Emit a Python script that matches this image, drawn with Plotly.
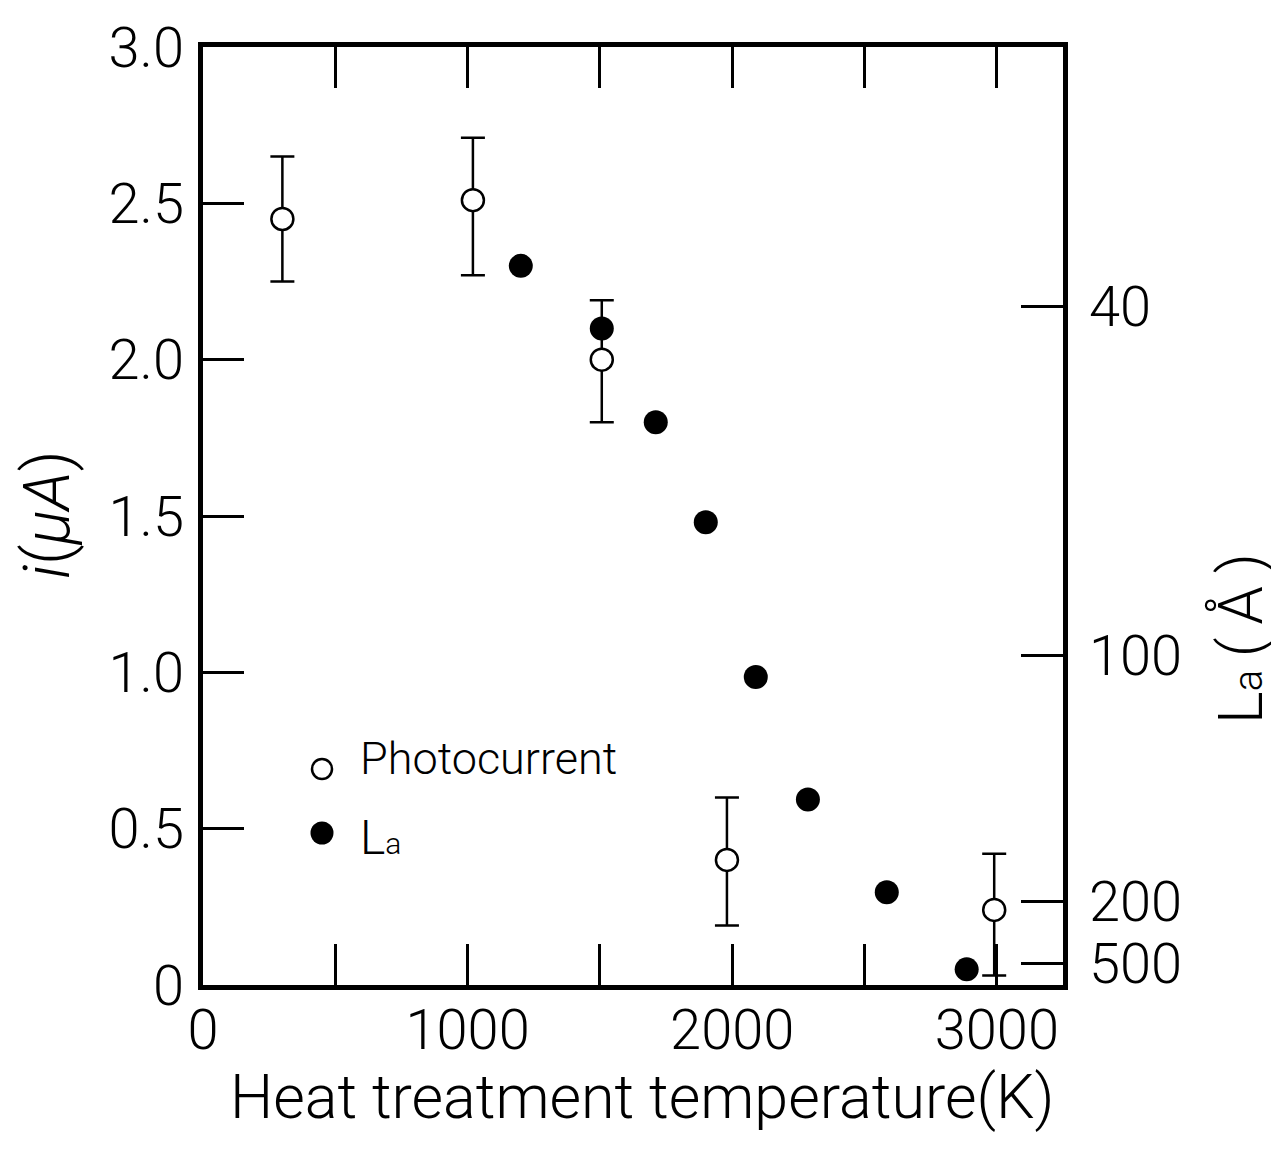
import plotly.graph_objects as go

# ---- data ----
# Photocurrent, heat-treatment temperature (K) vs i (uA), with error bars
pc_temp = [300, 1020, 1507, 1980, 2990]
pc_current = [2.45, 2.51, 2.00, 0.40, 0.24]
pc_err_plus = [0.20, 0.20, 0.19, 0.20, 0.18]
pc_err_minus = [0.20, 0.24, 0.20, 0.21, 0.21]

# La points: temperature (K) and position on the (non-linear) La axis,
# expressed in the shared vertical axis units
la_temp = [1201, 1507, 1711, 1900, 2089, 2286, 2584, 2886]
la_pos = [2.30, 2.10, 1.80, 1.48, 0.985, 0.593, 0.297, 0.05]

# right-hand La axis: tick labels and where they sit on the shared scale
la_tick_text = ["40", "100", "200", "500"]
la_tick_pos = [2.17, 1.055, 0.268, 0.07]

# left axis tick labels
y_tick_vals = [0, 0.5, 1.0, 1.5, 2.0, 2.5, 3.0]
y_tick_text = ["0", "0.5", "1.0", "1.5", "2.0", "2.5", "3.0"]
x_tick_vals = [0, 1000, 2000, 3000]
x_tick_text = ["0", "1000", "2000", "3000"]

legend_names = ["Photocurrent", "L<span style='font-size:30px'>a</span>"]

FONT = "Roboto"
WEIGHT = 300
OFF = 8                      # page body margin
W, H = 1279 - OFF, 1152 - 2 * OFF
PL, PR, PT, PB = 203, 1063, 47, 985   # plot box in page pixels
L, T = PL - OFF, PT - OFF
R = W - L - (PR - PL)
B = H - T - (PB - PT)
pw, ph = PR - PL, PB - PT


def px(xp):
    return (xp - PL) / pw


def py(yp):
    return (PB - yp) / ph


def fnt(size):
    return dict(family=FONT, size=size, color="black", weight=WEIGHT)


fig = go.Figure()

# error bars (drawn first, beneath the open circles)
fig.add_trace(go.Scatter(
    x=pc_temp, y=pc_current, mode="markers",
    marker=dict(size=1, color="rgba(0,0,0,0)"),
    error_y=dict(type="data", symmetric=False, array=pc_err_plus,
                 arrayminus=pc_err_minus, color="black", thickness=2.5, width=12),
    showlegend=False, hoverinfo="skip",
))

fig.add_trace(go.Scatter(
    x=pc_temp, y=pc_current, mode="markers", name=legend_names[0],
    marker=dict(symbol="circle", size=22, color="white",
                line=dict(color="black", width=2.5)),
    showlegend=False,
))

fig.add_trace(go.Scatter(
    x=la_temp, y=la_pos, mode="markers", name="La",
    yaxis="y2",
    marker=dict(symbol="circle", size=24, color="black",
                line=dict(color="black", width=0)),
    showlegend=False,
))

axis_common = dict(
    showgrid=False, zeroline=False, showline=True, linecolor="black",
    linewidth=4.5, ticks="inside", tickcolor="black", tickwidth=2.5,
    tickfont=fnt(56),
)

# legend drawn by hand (symbols + labels)
shapes = [
    dict(type="circle", xref="paper", yref="paper", xsizemode="pixel",
         ysizemode="pixel", xanchor=px(322), yanchor=py(769),
         x0=-10, x1=10, y0=-10, y1=10,
         line=dict(color="black", width=2.5), fillcolor="white", layer="above"),
    dict(type="circle", xref="paper", yref="paper", xsizemode="pixel",
         ysizemode="pixel", xanchor=px(322), yanchor=py(833),
         x0=-11.5, x1=11.5, y0=-11.5, y1=11.5,
         line=dict(color="black", width=0), fillcolor="black", layer="above"),
]

annotations = [
    dict(text=legend_names[0], x=px(358), y=py(758), xref="paper", yref="paper",
         showarrow=False, xanchor="left", yanchor="middle", font=fnt(45)),
    dict(text=legend_names[1], x=px(358), y=py(837), xref="paper", yref="paper",
         showarrow=False, xanchor="left", yanchor="middle", font=fnt(48)),
    dict(text="<i>i</i>(<i>μA</i>)", x=px(47), y=py(515),
         xref="paper", yref="paper", showarrow=False, textangle=-90,
         font=fnt(64), xanchor="center", yanchor="middle"),
    dict(text="L<span style='font-size:40px'>a</span>\u2009(\u2009Å\u2009)",
         x=px(1241), y=py(639),
         xref="paper", yref="paper", showarrow=False, textangle=-90,
         font=fnt(62), xanchor="center", yanchor="middle"),
    dict(text="Heat treatment temperature(K)", x=px(642), y=py(1097),
         xref="paper", yref="paper", showarrow=False,
         font=fnt(61), xanchor="center", yanchor="middle"),
]

fig.update_layout(
    width=W, height=H,
    margin=dict(l=L, r=R, t=T, b=B, autoexpand=False),
    paper_bgcolor="white", plot_bgcolor="white",
    font=fnt(20),
    xaxis=dict(
        range=[0, 3250], tickmode="array", tickvals=x_tick_vals,
        ticktext=x_tick_text, ticklen=41, mirror="allticks",
        minor=dict(dtick=500, tick0=0, ticks="inside", ticklen=29,
                   tickwidth=2.5, tickcolor="black", showgrid=False),
        **axis_common,
    ),
    yaxis=dict(
        range=[0, 3], tickmode="array", tickvals=y_tick_vals,
        ticktext=y_tick_text, ticklen=41, mirror=True, ticklabelstandoff=3,
        **axis_common,
    ),
    yaxis2=dict(
        range=[0, 3], overlaying="y", side="right", tickmode="array",
        tickvals=la_tick_pos, ticktext=la_tick_text,
        ticklen=42, ticklabelstandoff=10,
        **axis_common,
    ),
    showlegend=False,
    shapes=shapes,
    annotations=annotations,
)

try:
    fig.update_layout(xaxis_ticklabelstandoff=-8)
except Exception:
    fig.update_layout(xaxis_ticklabelstandoff=0)

fig.write_html("out.html")
